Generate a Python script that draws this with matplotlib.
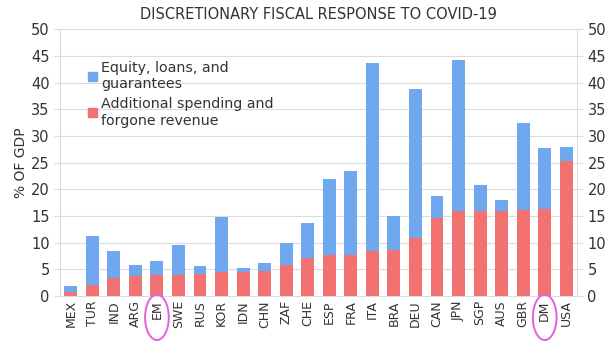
import matplotlib
matplotlib.use("Agg")
import matplotlib.pyplot as plt
import matplotlib.transforms as mtransforms
from matplotlib.patches import Ellipse, Patch
import numpy as np

countries = ["MEX", "TUR", "IND", "ARG", "EM", "SWE", "RUS", "KOR", "IDN", "CHN", "ZAF", "CHE",
             "ESP", "FRA", "ITA", "BRA", "DEU", "CAN", "JPN", "SGP", "AUS", "GBR", "DM", "USA"]
spending = [0.8, 2.0, 3.3, 3.8, 3.9, 4.0, 4.1, 4.5, 4.5, 4.6, 5.8, 7.2,
            7.6, 7.7, 8.4, 8.6, 10.9, 14.6, 15.9, 16.0, 16.0, 16.1, 16.3, 25.3]
totals = [1.8, 11.2, 8.4, 5.8, 6.5, 9.5, 5.7, 14.8, 5.3, 6.1, 10.0, 13.6,
          22.0, 23.4, 43.6, 15.0, 38.8, 18.8, 44.2, 20.8, 18.0, 32.4, 27.8, 27.9]
highlighted = ["EM", "DM"]

equity = [t - s for t, s in zip(totals, spending)]

blue = "#70a8f0"
red = "#f27272"
grid_col = "#dcdcdc"
text_col = "#333333"

fig = plt.figure(figsize=(6.09, 3.43), dpi=100)
ax = fig.add_axes([0.0985, 0.137, 0.849, 0.778])

x = np.arange(len(countries))
ax.bar(x, spending, width=0.6, color=red, zorder=2)
ax.bar(x, equity, width=0.6, bottom=spending, color=blue, zorder=2)

ax.set_xlim(-0.5, len(countries) - 0.5)
ax.set_ylim(0, 50)
ax.set_yticks(range(0, 51, 5))
ax.yaxis.grid(True, color=grid_col, linewidth=0.8, zorder=0)
ax.set_xticks(x)
ax.set_xticklabels(countries, rotation=90, fontsize=9, color=text_col)
ax.tick_params(axis="x", length=0, pad=3)
ax.tick_params(axis="y", labelsize=10.5, colors=text_col, length=4, color=grid_col)
for side in ["top", "right"]:
    ax.spines[side].set_visible(False)
ax.spines["left"].set_color(grid_col)
ax.spines["bottom"].set_color(grid_col)

ax2 = ax.twinx()
ax2.set_ylim(0, 50)
ax2.set_yticks(range(0, 51, 5))
ax2.tick_params(axis="y", labelsize=10.5, colors=text_col, length=4, color=grid_col)
for side in ["top", "left", "bottom"]:
    ax2.spines[side].set_visible(False)
ax2.spines["right"].set_color(grid_col)

ax.set_ylabel("% OF GDP", fontsize=10, color=text_col, labelpad=2)
ax.set_title("DISCRETIONARY FISCAL RESPONSE TO COVID-19", fontsize=10.5, color=text_col, pad=7)

handles = [Patch(color=blue), Patch(color=red)]
ax.legend(handles, ["Equity, loans, and\nguarantees", "Additional spending and\nforgone revenue"],
          loc="upper left", bbox_to_anchor=(0.03, 0.93), frameon=False, fontsize=10.3,
          handlelength=0.6, handleheight=0.6, handletextpad=0.3, labelspacing=0.45,
          labelcolor=text_col)

# magenta circles round the aggregate labels
trans = mtransforms.blended_transform_factory(ax.transData, ax.transAxes)
for name in highlighted:
    i = countries.index(name)
    ax.add_patch(Ellipse((i, -0.08), 1.1, 0.17, transform=trans, fill=False,
                         edgecolor="#e060e0", linewidth=1.4, clip_on=False, zorder=5))

fig.savefig("out.png", dpi=100)
